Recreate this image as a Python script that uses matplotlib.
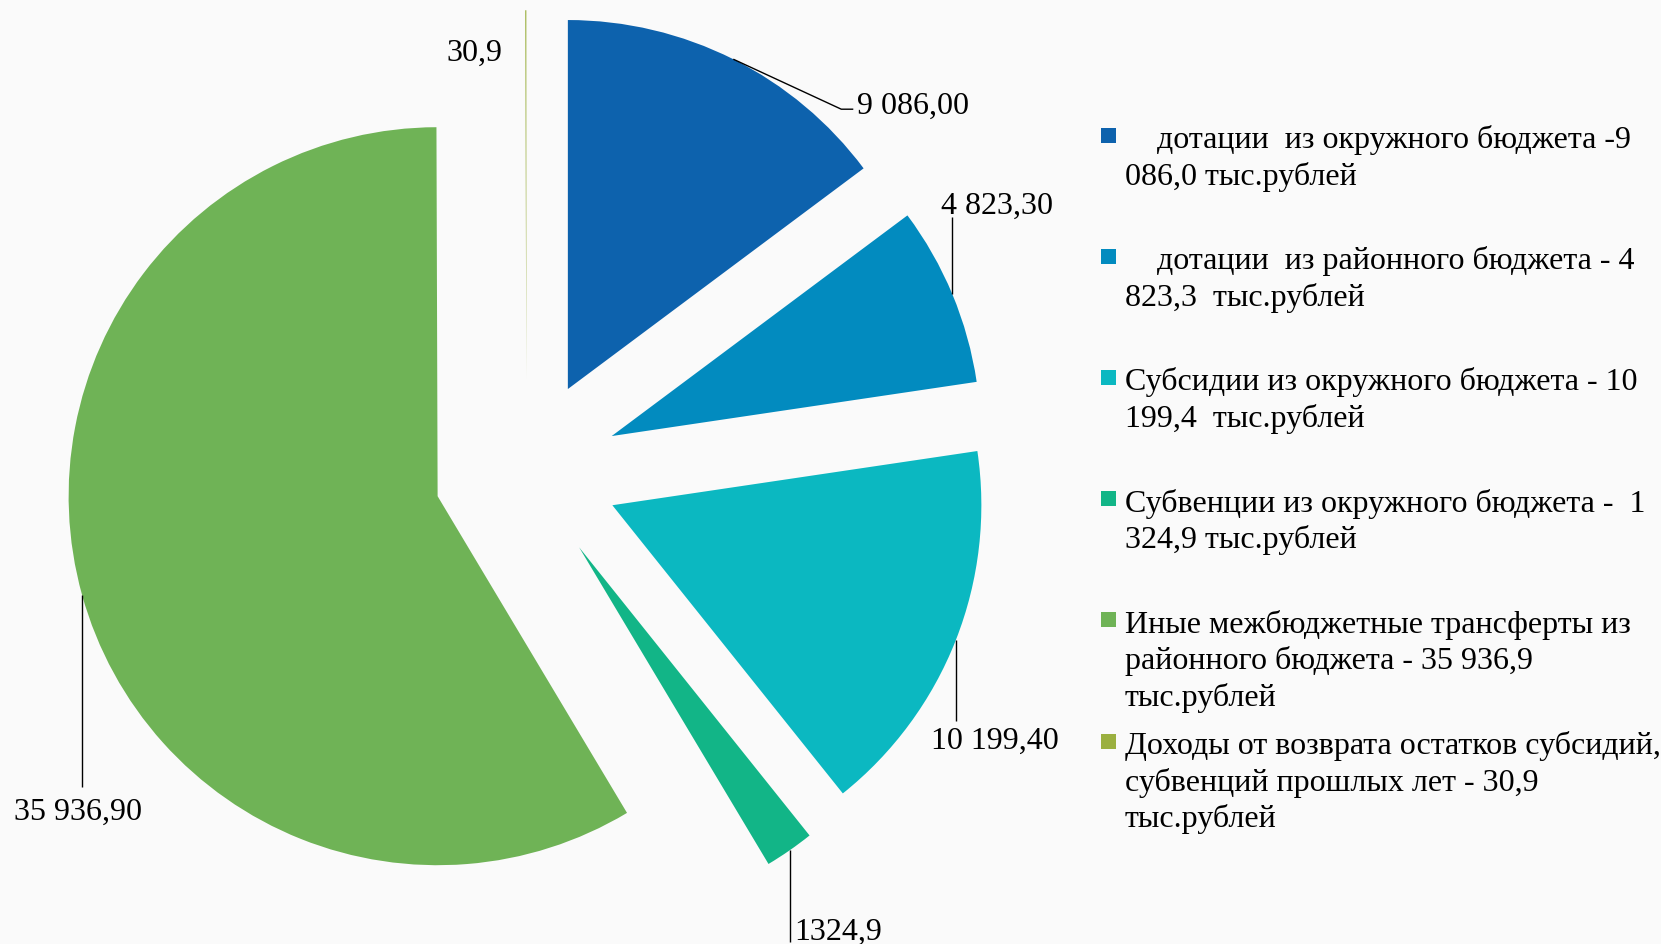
import numpy as np
import matplotlib.pyplot as plt

values = [9086.0, 4823.3, 10199.4, 1324.9, 35936.9, 30.9]
value_labels = ['9 086,00', '4 823,30', '10 199,40', '1324,9', '35 936,90', '30,9']
legend_labels = [
    ['    дотации  из окружного бюджета -9', '086,0 тыс.рублей'],
    ['    дотации  из районного бюджета - 4', '823,3  тыс.рублей'],
    ['Субсидии из окружного бюджета - 10', '199,4  тыс.рублей'],
    ['Субвенции из окружного бюджета -  1', '324,9 тыс.рублей'],
    ['Иные межбюджетные трансферты из', 'районного бюджета - 35 936,9', 'тыс.рублей'],
    ['Доходы от возврата остатков субсидий,', 'субвенций прошлых лет - 30,9', 'тыс.рублей'],
]
colors = ['#0D62AD', '#028BBF', '#0BB8C1', '#12B587', '#6FB356', '#9BB040']

# leader line shapes and label offsets, in pixels from the mid-arc point (y down)
leader_paths = [
    [(0, 0), (108, 50), (120, 50)],
    [(0, 0), (0, -77)],
    [(0, 0), (0, 81)],
    [(0, 0), (0, 92)],
    [(0, 0), (0, 192)],
    None,
]
label_offsets = [(124, 54, 'left'), (45, -82, 'center'), (39, 108, 'center'),
                 (5, 88, 'left'), (-4, 224, 'center'), (-51, 50, 'center')]

W, H = 1661, 945
R_PX = 369.0          # pie radius in pixels
CX, CY = 526.5, 472.5  # pie centre in pixels (from top-left)

plt.rcParams['font.family'] = ['Liberation Serif', 'DejaVu Serif']

fig = plt.figure(figsize=(W / 100, H / 100), dpi=100)
fig.patch.set_facecolor('#FAFAFA')
ax = fig.add_axes([0, 0, 1, 1])

wedges, _ = ax.pie(values, colors=colors, startangle=90, counterclock=False,
                   explode=[0.25] * len(values), radius=1, center=(0, 0))
ax.set_xlim(-CX / R_PX, (W - CX) / R_PX)
ax.set_ylim(-(H - CY) / R_PX, CY / R_PX)
ax.set_aspect('auto')
ax.axis('off')


def px(dx, dy):
    return dx / R_PX, -dy / R_PX


for w, lab, path, (ox, oy, ha) in zip(wedges, value_labels, leader_paths, label_offsets):
    mid = np.deg2rad((w.theta1 + w.theta2) / 2)
    cx, cy = w.center
    ax0 = cx + w.r * np.cos(mid)
    ay0 = cy + w.r * np.sin(mid)
    if path is not None:
        xs = [ax0 + px(dx, dy)[0] for dx, dy in path]
        ys = [ay0 + px(dx, dy)[1] for dx, dy in path]
        ax.plot(xs, ys, color='black', lw=1.0, solid_capstyle='butt')
    tx, ty = px(ox, oy)
    ax.text(ax0 + tx, ay0 + ty, lab, ha=ha, va='baseline', fontsize=23, color='black')

# legend, drawn by hand so every entry sits on a fixed step
leg_x_marker = 1101
leg_x_text = 1125
leg_y0 = 136
leg_step = 121.2
line_step = 36.5
for i, (lines, col) in enumerate(zip(legend_labels, colors)):
    yc = leg_y0 + i * leg_step
    ax.add_patch(plt.Rectangle((leg_x_marker / W, 1 - (yc + 7.5) / H), 15 / W, 15 / H,
                               transform=fig.transFigure, facecolor=col, edgecolor='none'))
    for k, line in enumerate(lines):
        fig.text(leg_x_text / W, 1 - (yc + 12 + k * line_step) / H, line,
                 ha='left', va='baseline', fontsize=23, color='black')

fig.savefig('out.png', dpi=100, facecolor=fig.get_facecolor())
